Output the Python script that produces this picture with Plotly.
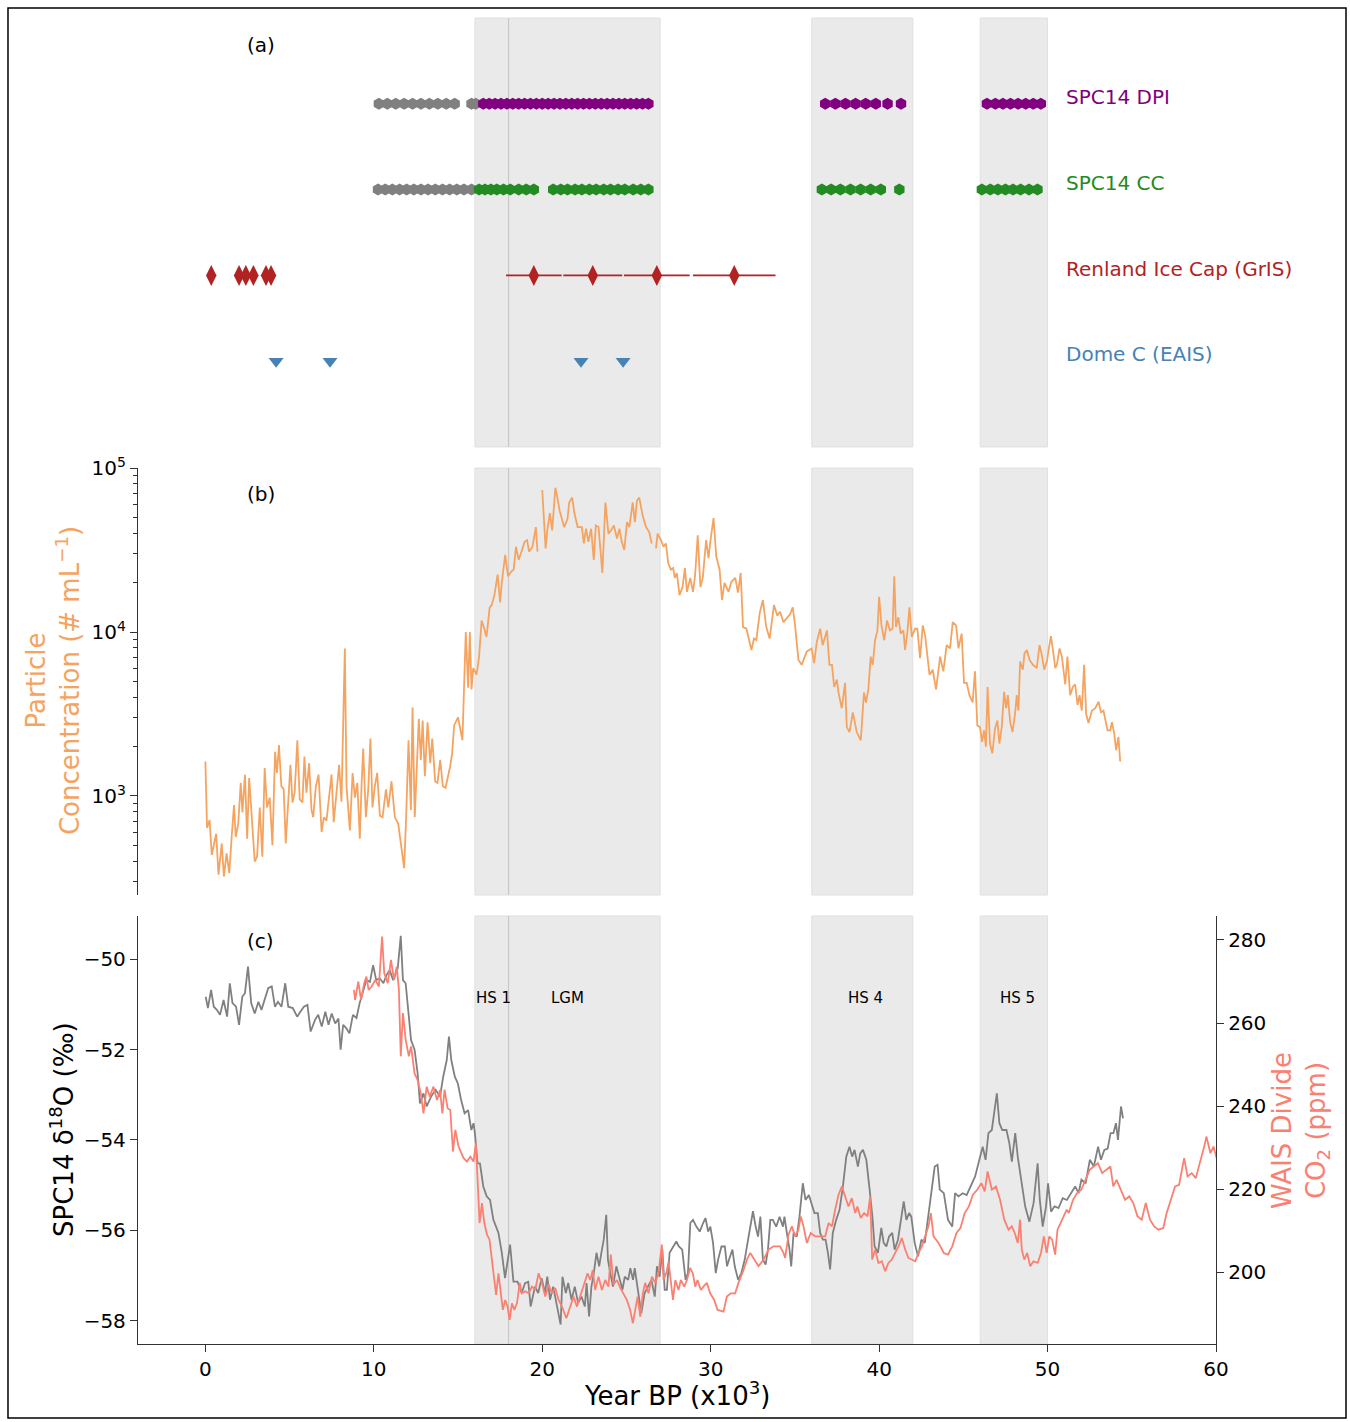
import plotly.graph_objects as go

FONT = "DejaVu Sans"

# ---------------- data ----------------
spans = [(16, 27), (36, 42), (46, 50)]
lgm_line = 18

# panel (a) sample ages (kyr BP)
dpi_gray = [10.3, 10.8, 11.3, 11.8, 12.3, 12.8, 13.3, 13.8, 14.3, 14.8, 15.8, 16.05]
dpi_purple = [16.5, 16.85, 17.2, 17.55, 17.9, 18.25, 18.6, 18.95, 19.3, 19.65, 20.0, 20.35,
              20.7, 21.05, 21.4, 21.75, 22.1, 22.45, 22.8, 23.15, 23.5, 23.85, 24.2, 24.55,
              24.9, 25.25, 25.6, 25.95, 26.3,
              36.8, 37.4, 38.0, 38.6, 39.2, 39.8, 40.5, 41.3,
              46.4, 46.9, 47.35, 47.8, 48.25, 48.7, 49.15, 49.6]
cc_gray = [10.25, 10.68, 11.1, 11.53, 11.95, 12.38, 12.8, 13.22, 13.65, 14.08, 14.5, 14.93,
           15.35, 15.8]
cc_green = [16.25, 16.6, 16.95, 17.3, 17.7, 18.1, 18.6, 19.05, 19.5,
            20.65, 21.1, 21.5, 21.95, 22.35, 22.8, 23.2, 23.65, 24.05, 24.5, 24.9, 25.4,
            25.85, 26.3,
            36.6, 37.15, 37.7, 38.3, 38.9, 39.5, 40.1, 41.2,
            46.1, 46.6, 47.05, 47.5, 47.95, 48.4, 48.9, 49.4]
renland_age = [0.35, 2.0, 2.4, 2.85, 3.6, 3.9, 19.5, 23.0, 26.8, 31.4]
renland_err = [0, 0, 0, 0, 0, 0, 1.65, 1.75, 1.95, 2.45]
domec_age = [4.2, 7.4, 22.3, 24.8]

row_labels = ["SPC14 DPI", "SPC14 CC", "Renland Ice Cap (GrIS)", "Dome C (EAIS)"]
row_colors = ["#800080", "#228b22", "#b22222", "#4682b4"]
row_y = [4, 3, 2, 1]

# panel (b) particle concentration, stored as log10(# mL^-1); None = gap
particle_age = [
    0.0, 0.1, 0.25, 0.38, 0.64, 0.78, 0.97, 1.1, 1.26, 1.42, 1.56, 1.7, 1.8, 1.95, 2.1, 2.2,
    2.35, 2.48, 2.6, 2.73, 2.93, 3.07, 3.23, 3.38, 3.52, 3.66, 3.82, 3.98, 4.14, 4.25, 4.37,
    4.51, 4.65, 4.77, 4.93, 5.05, 5.17, 5.3, 5.46, 5.6, 5.76, 5.88, 6.0, 6.16, 6.3, 6.4, 6.56,
    6.72, 6.9, 7.03, 7.19, 7.35, 7.49, 7.62, 7.78, 7.94, 8.08, 8.28, 8.38, 8.48, 8.58, 8.74,
    8.88, 9.02, 9.17, 9.27, 9.37, 9.53, 9.67, 9.8, 9.92, 10.06, 10.2, 10.36, 10.52, 10.72,
    10.86, 11.05, 11.25, 11.45, 11.65, 11.8, 11.92, 12.06, 12.2, 12.3, 12.43, 12.55, 12.67,
    12.79, 12.9, 13.03, 13.19, 13.35, 13.47, 13.64, 13.78, 13.94, 14.1, 14.26, 14.41, 14.53,
    14.65, 14.77, 15.0, 15.26, 15.46, 15.6, 15.7, 15.8, 15.9, 16.1, 16.25, 16.4, 16.53,
    16.69, 16.88, 17.0, 17.16, 17.35, 17.5, 17.6, 17.8, 17.97, 18.17, 18.3, 18.44, 18.6,
    18.8, 18.95, 19.1, 19.22, 19.42, 19.62, 19.72, 19.86, 20.0, 20.2, 20.3, 20.45, 20.59,
    20.67, 20.78, 20.9, 21.03, 21.3, 21.5, 21.6, 21.78, 21.9, 22.1, 22.35, 22.47, 22.6,
    22.74, 22.9, 23.06, 23.18, 23.34, 23.57, 23.75, 23.93, 24.09, 24.25, 24.44, 24.58,
    24.72, 24.87, 25.03, 25.17, 25.37, 25.5, 25.62, 25.76, 25.96, 26.16, 26.35, 26.5, 26.62,
    26.75, 26.85, 27.05, 27.2, 27.34, 27.48, 27.63, 27.77, 27.87, 27.99, 28.15, 28.33,
    28.47, 28.59, 28.79, 28.95, 29.07, 29.23, 29.39, 29.53, 29.73, 29.87, 29.99, 30.17,
    30.33, 30.53, 30.67, 30.82, 31.06, 31.22, 31.46, 31.62, 31.78, 31.92, 32.12, 32.42,
    32.57, 32.71, 32.91, 33.1, 33.3, 33.5, 33.76, 33.95, 34.12, 34.32, 34.72, 34.87, 35.0,
    35.21, 35.4, 35.7, 35.99, 36.14, 36.3, 36.5, 36.65, 36.8, 36.9, 37.05, 37.2, 37.33,
    37.49, 37.59, 37.78, 37.98, 38.08, 38.24, 38.44, 38.67, 38.91, 39.1, 39.22, 39.36, 39.5,
    39.62, 39.76, 39.9, 40.0, 40.14, 40.3, 40.47, 40.64, 40.8, 40.9, 41.0, 41.14, 41.28,
    41.44, 41.54, 41.68, 41.8, 41.94, 42.13, 42.27, 42.43, 42.59, 42.73, 42.83, 42.99,
    43.18, 43.38, 43.62, 43.81, 44.01, 44.21, 44.37, 44.57, 44.71, 44.9, 45.04, 45.2, 45.36,
    45.55, 45.69, 45.83, 45.99, 46.11, 46.23, 46.34, 46.44, 46.58, 46.72, 46.88, 47.02,
    47.14, 47.28, 47.42, 47.54, 47.64, 47.78, 47.92, 48.08, 48.17, 48.27, 48.37, 48.53,
    48.63, 48.77, 48.93, 49.13, 49.36, 49.52, 49.66, 49.8, 49.96, 50.06, 50.2, 50.32, 50.46,
    50.55, 50.71, 50.85, 51.05, 51.18, 51.34, 51.5, 51.64, 51.78, 51.9, 52.03, 52.17, 52.29,
    52.43, 52.63, 52.83, 53.03, 53.17, 53.32, 53.42, 53.56, 53.72, 53.82, 53.96, 54.07,
    54.21, 54.31]
particle_log10 = [
    3.21, 2.805, 2.854, 2.64, 2.77, 2.52, 2.71, 2.51, 2.65, 2.53, 2.75, 2.945, 2.75, 2.83,
    3.08, 2.9, 3.13, 2.74, 3.11, 2.93, 2.6, 2.63, 2.93, 2.63, 3.17, 2.93, 2.99, 2.70, 3.27,
    3.14, 3.31, 3.06, 3.04, 2.71, 3.02, 3.19, 2.96, 3.02, 3.34, 2.98, 2.96, 3.24, 3.02, 3.20,
    2.915, 2.87, 3.06, 3.13, 2.78, 2.87, 2.85, 3.02, 3.13, 2.84, 3.02, 3.19, 2.965, 3.90,
    3.06, 2.93, 2.79, 3.14, 2.99, 3.08, 2.74, 3.06, 3.29, 2.87, 3.04, 3.35, 2.93, 3.06, 3.14,
    2.88, 2.87, 3.04, 2.93, 3.09, 2.87, 2.83, 2.69, 2.56, 2.87, 3.34, 2.915, 3.54, 2.87,
    3.14, 3.47, 3.22, 3.46, 3.12, 3.45, 3.2, 3.35, 3.09, 3.08, 3.22, 3.06, 3.05, 3.12, 3.18,
    3.26, 3.43, 3.48, 3.34, 4.0, 3.66, 4.0, 3.65, 3.78, 3.74, 3.85, 4.07, 4.03, 3.97, 4.15,
    4.165, 4.225, 4.35, 4.18, 4.305, 4.47, 4.34, 4.37, 4.38, 4.52, 4.44, 4.5, 4.55, 4.56,
    4.49, 4.52, 4.64, 4.49, None, 4.866, 4.51, 4.62, 4.725, 4.62, 4.74, 4.88, 4.82, 4.74,
    4.64, 4.69, 4.79, 4.82, 4.73, 4.64, 4.64, 4.54, 4.63, 4.55, 4.63, 4.44, 4.65, 4.64,
    4.36, 4.79, 4.6, 4.62, 4.65, 4.57, 4.63, 4.55, 4.5, 4.67, 4.64, 4.79, 4.67, 4.80, 4.82,
    4.71, 4.64, 4.61, 4.54, None, 4.51, 4.6, 4.56, 4.52, 4.54, 4.42, 4.38, 4.39, 4.33, 4.36,
    4.225, 4.275, 4.39, 4.245, 4.33, 4.245, 4.34, 4.59, 4.275, 4.33, 4.56, 4.45, 4.56,
    4.695, 4.46, 4.38, 4.195, 4.30, 4.245, 4.305, 4.33, 4.24, 4.36, 4.03, 4.02, 3.89, 3.96,
    3.95, 4.115, 4.195, 4.03, 3.96, 4.165, 4.10, 4.124, 4.06, 4.11, 4.15, 4.05, 3.83, 3.8,
    3.88, 3.90, 3.81, 3.94, 4.02, 3.92, 3.97, 4.01, 3.8, 3.8, 3.665, 3.71, 3.63, 3.535,
    3.69, 3.42, 3.39, 3.51, 3.39, 3.34, 3.63, 3.57, 3.65, 3.85, 3.8, 3.95, 4.01, 4.215,
    4.04, 3.95, 4.07, 4.01, 4.02, 4.34, 4.03, 4.09, 3.99, 4.01, 3.89, 4.0, 4.15, 3.97, 4.02,
    4.02, 3.84, 4.04, 3.98, 3.89, 3.74, 3.77, 3.65, 3.85, 3.76, 3.92, 3.90, 4.06, 4.04,
    3.90, 3.99, 3.69, 3.69, 3.615, 3.57, 3.76, 3.43, 3.42, 3.33, 3.40, 3.30, 3.665, 3.32,
    3.26, 3.41, 3.46, 3.32, 3.42, 3.635, 3.535, 3.615, 3.45, 3.39, 3.51, 3.615, 3.52, 3.82,
    3.77, 3.87, 3.89, 3.83, 3.8, 3.78, 3.92, 3.86, 3.77, 3.82, 3.89, 3.975, 3.89, 3.78, 3.8,
    3.90, 3.85, 3.68, 3.85, 3.615, 3.665, 3.68, 3.555, 3.615, 3.52, 3.80, 3.50, 3.445, 3.52,
    3.535, 3.575, 3.51, 3.52, 3.46, 3.40, 3.40, 3.45, 3.38, 3.28, 3.36, 3.21]

# panel (c) SPC14 d18O (permil)
d18o_age = [
    0.02, 0.15, 0.34, 0.5, 0.68, 0.87, 1.08, 1.29, 1.45, 1.61, 1.82, 2.0, 2.19, 2.35, 2.53,
    2.72, 2.93, 3.15, 3.33, 3.52, 3.73, 3.94, 4.13, 4.31, 4.52, 4.74, 4.92, 5.19, 5.45, 5.64,
    5.85, 6.06, 6.25, 6.51, 6.7, 6.91, 7.12, 7.31, 7.5, 7.71, 7.9, 8.03, 8.18, 8.37, 8.55,
    8.76, 8.97, 9.16, 9.35, 9.56, 9.77, 9.96, 10.14, 10.35, 10.57, 10.75, 10.94, 11.15,
    11.42, 11.6, 11.73, 11.89, 12.08, 12.21, 12.42, 12.6, 12.74, 12.95, 13.14, 13.4, 13.67,
    13.93, 14.12, 14.33, 14.46, 14.6, 14.81, 14.99, 15.18, 15.39, 15.6, 15.79, 15.92, 16.0,
    16.16, 16.3, 16.5, 16.7, 16.9, 17.1, 17.4, 17.6, 17.79, 18.09, 18.29, 18.53, 18.78,
    18.98, 19.17, 19.31, 19.57, 19.76, 19.96, 20.16, 20.3, 20.46, 20.65, 20.89, 21.09, 21.2,
    21.4, 21.54, 21.74, 21.93, 22.13, 22.33, 22.53, 22.63, 22.78, 22.92, 23.06, 23.22,
    23.38, 23.51, 23.65, 23.8, 23.9, 24.04, 24.2, 24.4, 24.6, 24.76, 24.9, 25.1, 25.23,
    25.39, 25.49, 25.69, 25.88, 26.08, 26.28, 26.48, 26.68, 26.81, 26.97, 27.13, 27.27,
    27.4, 27.56, 27.76, 27.96, 28.11, 28.31, 28.51, 28.65, 28.79, 28.95, 29.15, 29.35,
    29.55, 29.69, 29.85, 29.98, 30.14, 30.3, 30.44, 30.64, 30.84, 30.97, 31.09, 31.29,
    31.43, 31.63, 31.82, 32.02, 32.22, 32.36, 32.51, 32.67, 32.81, 32.95, 33.1, 33.26, 33.4,
    33.54, 33.69, 33.89, 34.09, 34.29, 34.38, 34.52, 34.68, 34.78, 34.92, 35.11, 35.27,
    35.47, 35.63, 35.83, 36.02, 36.16, 36.36, 36.5, 36.66, 36.82, 36.96, 37.09, 37.25,
    37.45, 37.65, 37.85, 38.05, 38.24, 38.4, 38.54, 38.74, 38.88, 39.04, 39.24, 39.44, 39.6,
    39.73, 39.93, 40.13, 40.27, 40.43, 40.59, 40.78, 40.92, 41.12, 41.32, 41.46, 41.62,
    41.78, 41.91, 42.11, 42.31, 42.51, 42.71, 42.9, 43.1, 43.3, 43.47, 43.6, 43.84, 44.09,
    44.34, 44.51, 44.71, 44.96, 45.2, 45.45, 45.7, 45.95, 46.15, 46.32, 46.49, 46.69, 46.82,
    46.99, 47.14, 47.31, 47.56, 47.73, 47.88, 48.08, 48.23, 48.43, 48.67, 48.92, 49.17,
    49.41, 49.54, 49.71, 49.91, 50.03, 50.21, 50.41, 50.65, 50.9, 51.15, 51.39, 51.64,
    51.84, 52.01, 52.26, 52.51, 52.75, 53.0, 53.17, 53.37, 53.57, 53.74, 53.91, 54.06,
    54.18, 54.36, 54.48]
d18o_val = [
    -50.83, -51.08, -50.68, -51.05, -51.12, -51.23, -50.9, -51.27, -50.53, -50.97, -51.05,
    -51.45, -50.83, -50.75, -50.16, -50.97, -51.2, -50.94, -51.12, -50.9, -50.64, -50.6,
    -51.05, -50.94, -51.05, -50.53, -51.05, -51.08, -51.27, -51.16, -51.05, -51.01, -51.6,
    -51.34, -51.23, -51.49, -51.16, -51.45, -51.2, -51.42, -51.31, -52.0, -51.45, -51.53,
    -51.64, -51.23, -51.3, -50.97, -50.75, -50.46, -50.5, -50.13, -50.46, -50.42, -50.53,
    -50.35, -50.24, -50.46, -50.2, -49.48, -50.46, -50.53, -51.27, -51.79, -52.0, -52.52,
    -53.19, -52.97, -53.26, -53.04, -52.89, -53.04, -52.6, -52.23, -51.71, -52.23, -52.6,
    -52.75, -53.11, -53.41, -53.34, -53.78, -53.63, -53.85, -54.52, -54.52, -55.03, -55.25,
    -55.33, -55.77, -56.06, -56.5, -57.06, -56.32, -57.14, -57.14, -57.39, -57.17, -57.14,
    -57.69, -57.25, -57.39, -57.06, -57.39, -57.03, -57.54, -57.25, -57.76, -58.09, -57.03,
    -57.39, -57.17, -57.54, -57.25, -57.61, -57.47, -57.69, -57.17, -57.91, -57.25, -56.95,
    -56.5, -56.8, -56.5, -56.21, -55.66, -56.65, -56.95, -57.25, -56.8, -57.1, -57.32,
    -57.03, -57.1, -56.84, -57.1, -56.84, -57.39, -57.84, -57.39, -57.25, -57.1, -57.47,
    -56.8, -57.03, -56.43, -57.32, -57.32, -56.5, -56.36, -56.25, -56.36, -56.43, -57.1,
    -56.95, -55.84, -55.77, -55.92, -56.03, -55.84, -55.73, -56.03, -55.92, -56.28, -56.95,
    -56.65, -56.36, -56.36, -56.8, -56.65, -56.43, -56.8, -57.1, -56.95, -56.65, -56.21,
    -55.92, -55.58, -55.92, -56.14, -55.7, -56.65, -56.76, -56.43, -55.77, -55.77, -55.92,
    -55.7, -55.92, -55.7, -56.06, -56.43, -56.8, -56.06, -56.14, -55.7, -54.96, -55.33,
    -55.22, -55.47, -55.62, -55.62, -56.06, -56.21, -56.21, -56.5, -56.87, -56.06, -55.77,
    -55.55, -55.03, -54.37, -54.15, -54.37, -54.22, -54.59, -54.3, -54.22, -54.44, -55.11,
    -55.7, -56.36, -56.5, -55.95, -56.28, -56.36, -56.14, -56.06, -56.43, -56.21, -55.7,
    -55.36, -55.77, -55.62, -55.7, -56.28, -56.58, -56.21, -56.28, -55.77, -55.18, -54.59,
    -54.55, -55.1, -55.18, -55.77, -55.92, -55.18, -55.25, -55.18, -55.22, -55.0, -54.81,
    -54.44, -54.15, -54.44, -53.85, -53.78, -53.41, -52.97, -53.63, -53.78, -53.78, -54.07,
    -54.48, -53.85, -54.37, -54.88, -55.47, -55.81, -55.4, -54.52, -55.33, -55.92, -55.47,
    -54.96, -55.59, -55.47, -55.51, -55.29, -55.33, -55.18, -55.03, -55.18, -54.88, -54.96,
    -54.44, -54.59, -54.15, -54.44, -54.22, -54.19, -53.85, -53.85, -53.63, -54.0, -53.26,
    -53.52]

# panel (c) WAIS Divide CO2 (ppm)
co2_age = [
    8.82, 8.89, 9.08, 9.24, 9.43, 9.56, 9.69, 9.87, 10.09, 10.3, 10.49, 10.62, 10.83, 11.02,
    11.2, 11.36, 11.49, 11.6, 11.73, 11.89, 12.08, 12.21, 12.42, 12.6, 12.79, 12.95, 13.14,
    13.32, 13.54, 13.75, 13.93, 14.07, 14.2, 14.38, 14.54, 14.7, 14.84, 15.03, 15.33, 15.53,
    15.73, 15.92, 16.06, 16.16, 16.28, 16.42, 16.56, 16.72, 16.87, 17.01, 17.15, 17.26,
    17.4, 17.5, 17.66, 17.8, 17.94, 18.06, 18.2, 18.34, 18.5, 18.66, 18.79, 18.99, 19.19,
    19.39, 19.58, 19.78, 19.98, 20.18, 20.38, 20.57, 20.77, 20.97, 21.17, 21.43, 21.66,
    21.86, 22.06, 22.26, 22.49, 22.69, 22.85, 23.0, 23.14, 23.34, 23.54, 23.74, 23.93,
    24.07, 24.23, 24.43, 24.63, 24.82, 25.02, 25.22, 25.38, 25.52, 25.66, 25.82, 25.97,
    26.11, 26.31, 26.51, 26.71, 26.9, 27.1, 27.2, 27.36, 27.5, 27.64, 27.76, 27.9, 28.09,
    28.23, 28.43, 28.59, 28.78, 28.94, 29.08, 29.22, 29.42, 29.57, 29.77, 29.97, 30.21,
    30.41, 30.76, 30.96, 31.19, 31.45, 31.65, 31.95, 32.15, 32.35, 32.54, 32.84, 33.14,
    33.43, 33.73, 34.12, 34.32, 34.42, 34.62, 34.82, 35.01, 35.21, 35.35, 35.51, 35.71,
    35.94, 36.2, 36.5, 36.8, 37.0, 37.2, 37.39, 37.59, 37.79, 37.98, 38.18, 38.38, 38.58,
    38.71, 38.91, 39.11, 39.31, 39.47, 39.59, 39.76, 39.96, 40.16, 40.36, 40.55, 40.75,
    40.95, 41.15, 41.35, 41.55, 41.74, 41.94, 42.14, 42.34, 42.54, 42.73, 42.93, 43.07,
    43.23, 43.53, 43.84, 44.09, 44.34, 44.59, 44.83, 45.08, 45.33, 45.57, 45.82, 46.07,
    46.27, 46.44, 46.69, 46.94, 47.18, 47.43, 47.68, 47.88, 48.05, 48.23, 48.37, 48.47,
    48.62, 48.79, 48.97, 49.16, 49.41, 49.61, 49.78, 49.95, 50.1, 50.27, 50.45, 50.59,
    50.77, 51.01, 51.14, 51.26, 51.51, 51.75, 52.0, 52.25, 52.5, 52.74, 52.99, 53.24,
    53.48, 53.73, 53.9, 54.1, 54.35, 54.6, 54.85, 55.09, 55.34, 55.59, 55.83, 56.08, 56.33,
    56.58, 56.87, 57.07, 57.32, 57.57, 57.81, 58.01, 58.11, 58.31, 58.56, 58.8, 59.05,
    59.3, 59.43, 59.67, 59.85, 60.17]
co2_val = [
    268.0, 265.6, 270.0, 265.6, 269.6, 271.2, 268.0, 268.8, 270.4, 268.8, 280.8, 272.0,
    269.6, 275.2, 270.4, 273.6, 268.0, 252.0, 262.4, 256.0, 252.0, 254.4, 247.9, 246.3,
    243.1, 238.3, 244.7, 242.3, 244.7, 241.5, 243.9, 238.3, 244.0, 239.5, 239.1, 229.1,
    234.3, 230.3, 227.5, 226.7, 227.9, 226.7, 231.1, 220.7, 211.9, 216.7, 211.9, 209.1,
    207.9, 203.1, 198.2, 194.6, 199.8, 195.8, 191.0, 193.4, 191.8, 188.6, 192.6, 191.0,
    192.6, 197.5, 195.0, 195.5, 195.0, 196.6, 195.8, 199.8, 197.5, 194.2, 197.1, 195.0,
    196.3, 193.4, 191.8, 189.0, 191.8, 194.2, 191.8, 194.2, 197.5, 199.8, 198.2, 200.6,
    195.8, 199.0, 195.8, 198.2, 196.6, 204.3, 197.1, 198.2, 196.3, 195.0, 193.4, 191.0,
    187.8, 191.0, 194.2, 189.4, 195.0, 197.5, 195.0, 199.0, 197.5, 199.8, 206.7, 198.2,
    199.8, 202.6, 198.2, 193.4, 198.2, 195.8, 198.2, 196.6, 198.2, 201.1, 199.8, 196.6,
    198.2, 195.8, 196.6, 197.5, 195.0, 193.4, 191.0, 190.6, 194.2, 195.0, 195.0, 197.5,
    200.6, 203.1, 204.7, 203.5, 201.5, 203.1, 205.5, 206.3, 206.3, 204.7, 203.5, 209.1,
    211.1, 208.7, 210.3, 213.5, 211.1, 207.1, 209.5, 208.7, 208.7, 208.7, 211.9, 211.1,
    215.1, 218.7, 220.7, 218.3, 215.9, 217.9, 214.3, 215.9, 213.1, 214.3, 213.5, 218.3,
    203.1, 205.5, 202.3, 202.7, 200.3, 202.3, 203.1, 204.7, 206.3, 208.3, 205.5, 203.5,
    203.1, 202.7, 204.7, 206.3, 208.7, 211.1, 214.3, 208.7, 207.1, 204.7, 204.3, 206.3,
    209.5, 210.7, 214.3, 215.9, 218.7, 219.9, 221.5, 219.5, 224.3, 219.9, 220.7, 217.5,
    212.7, 210.3, 211.1, 209.5, 207.1, 212.7, 205.5, 203.1, 204.7, 201.5, 202.7, 202.3,
    204.7, 208.7, 204.7, 208.7, 207.9, 204.3, 210.3, 211.9, 214.3, 215.1, 214.3, 217.5,
    219.1, 219.9, 222.3, 224.7, 225.5, 226.3, 223.9, 224.7, 225.5, 220.7, 222.3, 219.9,
    217.5, 218.3, 216.7, 213.5, 212.7, 216.7, 212.7, 211.1, 210.3, 210.7, 214.3, 217.5,
    220.7, 221.1, 225.5, 227.5, 223.1, 223.9, 222.7, 226.3, 230.3, 232.7, 228.7, 230.3,
    225.5]

x_ticks = [0, 10, 20, 30, 40, 50, 60]
d18o_ticks = [-50, -52, -54, -56, -58]
co2_ticks = [200, 220, 240, 260, 280]
particle_ticks = [1e3, 1e4, 1e5]
particle_minor = [300, 400, 500, 600, 700, 800, 900, 2000, 3000, 4000, 5000, 6000, 7000,
                  8000, 9000, 20000, 30000, 40000, 50000, 60000, 70000, 80000, 90000]
hs_labels = [("HS 1", 17.1), ("LGM", 21.5), ("HS 4", 39.2), ("HS 5", 48.2)]

# ---------------- figure ----------------
SPINE = "#333333"
fig = go.Figure()

# panel (a)
fig.add_trace(go.Scatter(x=dpi_gray, y=[4] * len(dpi_gray), mode="markers", xaxis="x", yaxis="y",
                         marker=dict(symbol="hexagon", size=12, color="#808080")))
fig.add_trace(go.Scatter(x=dpi_purple, y=[4] * len(dpi_purple), mode="markers", xaxis="x", yaxis="y",
                         marker=dict(symbol="hexagon", size=12, color="#800080")))
fig.add_trace(go.Scatter(x=cc_gray, y=[3] * len(cc_gray), mode="markers", xaxis="x", yaxis="y",
                         marker=dict(symbol="hexagon", size=12, color="#808080")))
fig.add_trace(go.Scatter(x=cc_green, y=[3] * len(cc_green), mode="markers", xaxis="x", yaxis="y",
                         marker=dict(symbol="hexagon", size=12, color="#228b22")))
fig.add_trace(go.Scatter(x=renland_age, y=[2] * len(renland_age), mode="markers", xaxis="x", yaxis="y",
                         marker=dict(symbol="diamond-tall", size=15, color="#b22222"),
                         error_x=dict(type="data", array=renland_err, color="#b22222",
                                      thickness=1.6, width=0)))
fig.add_trace(go.Scatter(x=domec_age, y=[1] * len(domec_age), mode="markers", xaxis="x", yaxis="y",
                         marker=dict(symbol="triangle-down", size=13, color="#4682b4")))

# panel (b)
particle_conc = [None if v is None else 10 ** v for v in particle_log10]
fig.add_trace(go.Scatter(x=particle_age, y=particle_conc, mode="lines", xaxis="x2", yaxis="y2",
                         line=dict(color="#f4a460", width=1.8), connectgaps=False))

# panel (c)
fig.add_trace(go.Scatter(x=d18o_age, y=d18o_val, mode="lines", xaxis="x3", yaxis="y3",
                         line=dict(color="#808080", width=1.8)))
fig.add_trace(go.Scatter(x=co2_age, y=co2_val, mode="lines", xaxis="x3", yaxis="y4",
                         line=dict(color="#fa8072", width=1.8)))

# shading and LGM line
shapes = []
for xr, yr in [("x", "y"), ("x2", "y2"), ("x3", "y3")]:
    for a, b in spans:
        shapes.append(dict(type="rect", xref=xr, yref=yr + " domain", x0=a, x1=b, y0=0, y1=1,
                           fillcolor="rgb(234,234,234)", line=dict(color="rgb(224,224,224)", width=1),
                           layer="below"))
    shapes.append(dict(type="line", xref=xr, yref=yr + " domain", x0=lgm_line, x1=lgm_line, y0=0, y1=1,
                       line=dict(color="rgb(200,200,200)", width=1.2), layer="below"))
# outer frame
shapes.append(dict(type="rect", xref="paper", yref="paper", x0=-0.1206, x1=1.1206, y0=-0.0558,
                   y1=1.0075, line=dict(color="black", width=1.5), fillcolor="rgba(0,0,0,0)"))

def note(x, y, xref, yref, text, size, color, xanchor="center", angle=0):
    return dict(x=x, y=y, xref=xref, yref=yref, text=text, showarrow=False,
                xanchor=xanchor, yanchor="middle", textangle=angle,
                font=dict(family=FONT, size=size, color=color))

ann = []
for lab, col, yy in zip(row_labels, row_colors, row_y):
    ann.append(note(51.0, yy + 0.08, "x", "y", lab, 20, col, xanchor="left"))
ann.append(note(3.3, 0.937, "x", "y domain", "(a)", 20, "black"))
ann.append(note(3.3, 0.94, "x2", "y2 domain", "(b)", 20, "black"))
ann.append(note(3.3, 0.942, "x3", "y3 domain", "(c)", 20, "black"))
for lab, xx in hs_labels:
    ann.append(note(xx, 0.808, "x3", "y3 domain", lab, 15, "black"))
# axis titles
ann.append(note(-0.0788, 0.5, "paper", "paper",
                "Particle<br>Concentration (# mL<sup>−1</sup>)", 26, "#f4a460", angle=-90))
ann.append(note(-0.0705, 0.1614, "paper", "paper",
                "SPC14 δ<sup>18</sup>O (‰)", 26, "black", angle=-90))
ann.append(note(1.0788, 0.1614, "paper", "paper",
                "WAIS Divide<br>CO<sub>2</sub> (ppm)", 26, "#fa8072", angle=-90))
ann.append(note(0.5, -0.0377, "paper", "paper", "Year BP (x10<sup>3</sup>)", 26, "black"))

tickfont = dict(family=FONT, size=20, color="black")
xcommon = dict(range=[-4, 60], showgrid=False, zeroline=False, automargin=False)

fig.update_layout(
    width=1350, height=1422,
    margin=dict(l=138, r=134, t=18, b=78, autoexpand=False),
    paper_bgcolor="white", plot_bgcolor="rgba(0,0,0,0)",
    showlegend=False,
    font=dict(family=FONT, size=20, color="black"),
    xaxis=dict(**xcommon, domain=[0, 1], anchor="y", visible=False),
    yaxis=dict(range=[0, 5], domain=[0.6765, 1.0], anchor="x", visible=False, automargin=False),
    xaxis2=dict(**xcommon, domain=[0, 1], anchor="y2", showline=False, showticklabels=False,
                ticks=""),
    yaxis2=dict(type="log", range=[2.396, 5], domain=[0.3386, 0.6606], anchor="x2",
                automargin=False,
                showgrid=False, zeroline=False, showline=True, linecolor=SPINE, linewidth=1.3,
                ticks="outside", ticklen=7, tickwidth=1.3, tickcolor=SPINE,
                tickmode="array", tickvals=particle_ticks,
                ticktext=["10<sup>3</sup>", "10<sup>4</sup>", "10<sup>5</sup>"],
                tickfont=tickfont,
                minor=dict(tickmode="array", tickvals=particle_minor, ticks="outside",
                           ticklen=4, tickwidth=1.1, tickcolor=SPINE, showgrid=False)),
    xaxis3=dict(**xcommon, domain=[0, 1], anchor="y3", showline=True, linecolor=SPINE,
                linewidth=1.3, ticks="outside", ticklen=7, tickwidth=1.3, tickcolor=SPINE,
                tickmode="array", tickvals=x_ticks, ticktext=[str(t) for t in x_ticks],
                tickfont=tickfont),
    yaxis3=dict(range=[-58.52, -49.04], domain=[0, 0.3228], anchor="x3", showgrid=False,
                automargin=False,
                zeroline=False, showline=True, linecolor=SPINE, linewidth=1.3,
                ticks="outside", ticklen=7, tickwidth=1.3, tickcolor=SPINE,
                tickmode="array", tickvals=d18o_ticks,
                ticktext=["−" + str(abs(t)) for t in d18o_ticks], tickfont=tickfont),
    yaxis4=dict(range=[182.8, 285.77], overlaying="y3", side="right", anchor="x3",
                automargin=False,
                showgrid=False, zeroline=False, showline=True, linecolor=SPINE, linewidth=1.3,
                ticks="outside", ticklen=7, tickwidth=1.3, tickcolor=SPINE,
                tickmode="array", tickvals=co2_ticks, ticktext=[str(t) for t in co2_ticks],
                tickfont=tickfont),
    shapes=shapes,
    annotations=ann,
)

fig.write_html("out.html")
